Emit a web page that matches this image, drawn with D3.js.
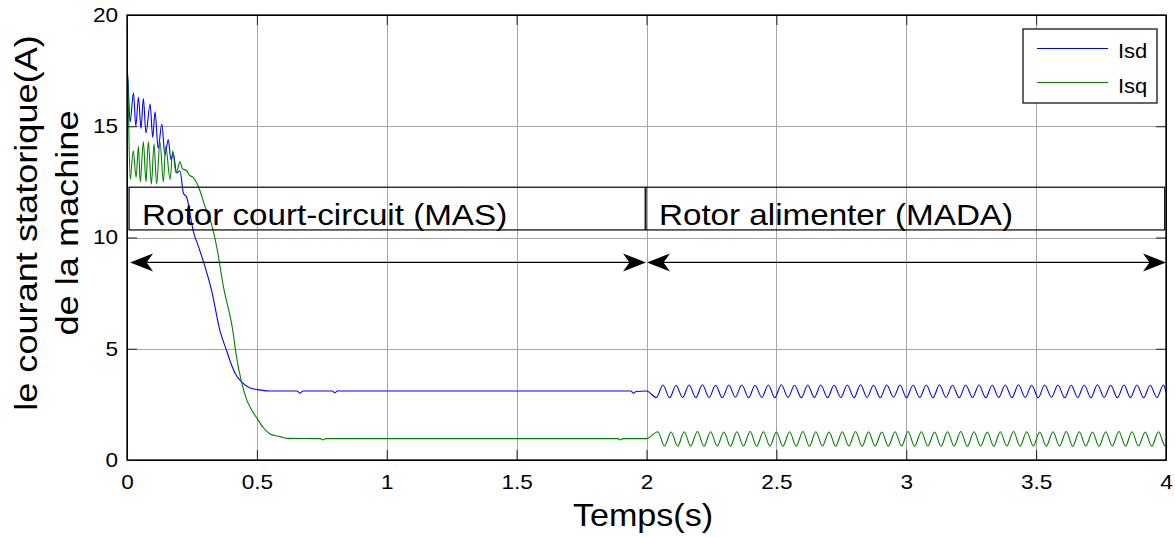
<!DOCTYPE html>
<html>
<head>
<meta charset="utf-8">
<script src="https://cdn.jsdelivr.net/npm/d3@7"></script>
<style>
  body { margin: 0; background: #fff; }
  svg { display: block; font-family: Arial, "Liberation Sans", sans-serif; }
</style>
</head>
<body>
<svg id="chart" width="1175" height="537"></svg>
<script>
// tick labels
var xTicks = [0, 0.5, 1, 1.5, 2, 2.5, 3, 3.5, 4]
var yTicks = [0, 5, 10, 15, 20]

// Isd : start-up + plateau (rotor short-circuited)
var isdStart = [[0,0],[0.001,17.5],[0.012,15.2],[0.025,16.5],[0.034,15.0],[0.044,16.3],[0.054,14.9],[0.063,16.25],
  [0.073,14.7],[0.089,16.0],[0.099,14.5],[0.108,15.65],[0.12,14.0],[0.134,15.1],[0.146,13.7],[0.159,14.4],
  [0.169,13.5],[0.178,13.8],[0.191,12.9],[0.204,13.0],[0.217,12.0],[0.23,11.8],[0.238,11.4],[0.245,10.9],
  [0.255,10.3],[0.275,9.6],[0.3,8.7],[0.326,7.6],[0.358,5.8],[0.384,4.9],[0.4,4.35],[0.416,3.9],[0.442,3.5],
  [0.474,3.24],[0.512,3.15],[0.55,3.1],[0.655,3.1],[0.666,3.0],[0.677,3.1],[0.79,3.1],[0.8,3.02],[0.81,3.1],
  [1.94,3.1],[1.95,3.0],[1.96,3.08],[2.0,3.1]]

// Isd : oscillation once the rotor is fed (MADA)
var isdFed = [[2.038,2.81],[2.063,3.37],[2.089,2.80],[2.114,3.36],[2.139,2.81],[2.164,3.37],[2.190,2.80],[2.215,3.38],
  [2.241,2.81],[2.266,3.36],[2.292,2.80],[2.317,3.37],[2.342,2.82],[2.367,3.37],[2.393,2.80],[2.418,3.36],
  [2.444,2.81],[2.469,3.37],[2.494,2.80],[2.519,3.38],[2.545,2.81],[2.570,3.36],[2.596,2.80],[2.621,3.37],
  [2.646,2.81],[2.671,3.37],[2.697,2.80],[2.722,3.36],[2.748,2.81],[2.773,3.37],[2.799,2.80],[2.824,3.38],
  [2.849,2.81],[2.874,3.36],[2.900,2.80],[2.925,3.37],[2.951,2.82],[2.976,3.37],[3.001,2.80],[3.026,3.36],
  [3.052,2.81],[3.077,3.37],[3.103,2.80],[3.128,3.38],[3.153,2.81],[3.178,3.36],[3.204,2.80],[3.229,3.37],
  [3.255,2.81],[3.280,3.37],[3.306,2.80],[3.331,3.36],[3.356,2.81],[3.381,3.37],[3.407,2.80],[3.432,3.38],
  [3.458,2.81],[3.483,3.36],[3.508,2.80],[3.533,3.37],[3.559,2.82],[3.584,3.37],[3.610,2.80],[3.635,3.36],
  [3.660,2.81],[3.685,3.37],[3.711,2.80],[3.736,3.38],[3.762,2.81],[3.787,3.36],[3.813,2.80],[3.838,3.37],
  [3.863,2.81],[3.888,3.37],[3.914,2.80],[3.939,3.36],[3.965,2.81],[3.990,3.37],[4.0,3.05]]

// Isq : start-up + plateau
var isqStart = [[0,0],[0.001,17.75],[0.012,12.6],[0.024,13.9],[0.035,12.7],[0.044,14.1],[0.051,12.5],[0.063,14.3],
  [0.073,12.5],[0.082,14.3],[0.094,12.4],[0.104,14.2],[0.114,12.4],[0.127,14.3],[0.14,12.5],[0.149,14.1],
  [0.166,12.6],[0.176,13.9],[0.189,12.9],[0.204,13.4],[0.213,13.1],[0.23,13.0],[0.24,12.8],[0.255,12.7],
  [0.281,12.1],[0.3,11.4],[0.32,10.8],[0.345,9.6],[0.371,7.8],[0.407,5.84],[0.422,4.6],[0.442,3.45],[0.461,2.7],
  [0.48,2.25],[0.499,1.9],[0.525,1.45],[0.551,1.17],[0.589,1.05],[0.615,0.97],[0.745,0.96],[0.755,0.9],
  [0.765,0.96],[1.89,0.96],[1.9,0.9],[1.91,0.96],[2.0,0.96]]

// Isq : oscillation once the rotor is fed
var isqFed = [[2.044,1.27],[2.069,0.63],[2.095,1.26],[2.120,0.62],[2.145,1.27],[2.170,0.63],[2.196,1.28],[2.221,0.62],
  [2.247,1.27],[2.272,0.63],[2.298,1.26],[2.323,0.62],[2.348,1.27],[2.373,0.63],[2.399,1.28],[2.424,0.62],
  [2.450,1.27],[2.475,0.63],[2.500,1.26],[2.525,0.62],[2.551,1.27],[2.576,0.63],[2.602,1.28],[2.627,0.62],
  [2.652,1.27],[2.677,0.63],[2.703,1.26],[2.728,0.62],[2.754,1.27],[2.779,0.63],[2.805,1.28],[2.830,0.62],
  [2.855,1.27],[2.880,0.63],[2.906,1.26],[2.931,0.62],[2.957,1.27],[2.982,0.63],[3.007,1.28],[3.032,0.62],
  [3.058,1.27],[3.083,0.63],[3.109,1.26],[3.134,0.62],[3.159,1.27],[3.184,0.63],[3.210,1.28],[3.235,0.62],
  [3.261,1.27],[3.286,0.63],[3.312,1.26],[3.337,0.62],[3.362,1.27],[3.387,0.63],[3.413,1.28],[3.438,0.62],
  [3.464,1.27],[3.489,0.63],[3.514,1.26],[3.539,0.62],[3.565,1.27],[3.590,0.63],[3.616,1.28],[3.641,0.62],
  [3.666,1.27],[3.691,0.63],[3.717,1.26],[3.742,0.62],[3.768,1.27],[3.793,0.63],[3.819,1.28],[3.844,0.62],
  [3.869,1.27],[3.894,0.63],[3.920,1.26],[3.945,0.62],[3.971,1.27],[3.996,0.64],[4.0,0.66]]

var series = [
  {name: "Isd", color: "#0000ff", pts: isdStart.concat(isdFed)},
  {name: "Isq", color: "#008000", pts: isqStart.concat(isqFed)}
]

// annotation boxes / arrows, in data units
var boxes = [
  {label: "Rotor court-circuit (MAS)", t0: 0.008, t1: 1.995, arrow: [0.012, 1.998]},
  {label: "Rotor alimenter (MADA)", t0: 1.998, t1: 3.995, arrow: [2.002, 4.0]}
]
var boxTop = 12.26, boxBottom = 10.34, arrowY = 8.88

var svg = d3.select("#chart")
// note: "top" is taken by window.top, so plot edges get their own names
var pL = 127, pR = 1166, pT = 15, pB = 460
var stretch = 1.13 // the source figure's text is a bit wider than Arial

var x = d3.scaleLinear().domain([0, 4]).range([pL, pR])
var y = d3.scaleLinear().domain([0, 20]).range([pB, pT])

svg.append("rect").attr("width", 1175).attr("height", 537).attr("fill", "#fff")

// grid
var grid = svg.append("g").attr("stroke", "#a6a6a6").attr("stroke-width", 1)
grid.selectAll(".gx").data(xTicks.slice(1, -1)).enter().append("line")
  .attr("x1", d => Math.round(x(d)) + 0.5).attr("x2", d => Math.round(x(d)) + 0.5)
  .attr("y1", pT).attr("y2", pB)
grid.selectAll(".gy").data(yTicks.slice(1, -1)).enter().append("line")
  .attr("y1", d => Math.round(y(d)) + 0.5).attr("y2", d => Math.round(y(d)) + 0.5)
  .attr("x1", pL).attr("x2", pR)

// curves
svg.append("clipPath").attr("id", "clip").append("rect")
  .attr("x", pL).attr("y", pT).attr("width", pR - pL).attr("height", pB - pT)
var line = d3.line().x(d => x(d[0])).y(d => y(d[1])).curve(d3.curveMonotoneX)
svg.append("g").attr("clip-path", "url(#clip)")
  .selectAll("path").data(series).enter().append("path")
  .attr("d", d => line(d.pts))
  .attr("fill", "none")
  .attr("stroke", d => d.color)
  .attr("stroke-width", 1.1)

// text boxes
var ann = svg.append("g")
ann.selectAll("rect").data(boxes).enter().append("rect")
  .attr("x", d => x(d.t0)).attr("y", y(boxTop))
  .attr("width", d => x(d.t1) - x(d.t0)).attr("height", y(boxBottom) - y(boxTop))
  .attr("fill", "none").attr("stroke", "#000").attr("stroke-width", 1.2)
ann.selectAll("text").data(boxes).enter().append("text")
  .attr("transform", d => "translate(" + (x(d.t0) + 13) + "," + (y(boxBottom) - 5) + ") scale(1.145,1)")
  .attr("font-size", "29px").attr("fill", "#000")
  .text(d => d.label)

// double arrows
var head = function(tip, dir) {
  var yy = y(arrowY)
  return "M" + tip + "," + yy +
    "L" + (tip + dir * 23) + "," + (yy - 9) +
    "L" + (tip + dir * 16.5) + "," + yy +
    "L" + (tip + dir * 23) + "," + (yy + 9) + "Z"
}
boxes.forEach(function(b) {
  var a = x(b.arrow[0]), c = x(b.arrow[1])
  ann.append("line").attr("x1", a + 10).attr("x2", c - 10)
    .attr("y1", y(arrowY)).attr("y2", y(arrowY))
    .attr("stroke", "#000").attr("stroke-width", 1.1)
  ann.append("path").attr("d", head(a, 1)).attr("fill", "#000")
  ann.append("path").attr("d", head(c, -1)).attr("fill", "#000")
})

// axes, ticks inward on all four sides
var fmt = d => String(d)
var gx = svg.append("g").attr("transform", "translate(0," + pB + ")")
  .call(d3.axisBottom(x).tickValues(xTicks).tickFormat(fmt).tickSizeInner(-10).tickSizeOuter(0).tickPadding(15))
var gy = svg.append("g").attr("transform", "translate(" + pL + ",0)")
  .call(d3.axisLeft(y).tickValues(yTicks).tickFormat(fmt).tickSizeInner(-10).tickSizeOuter(0).tickPadding(8))
svg.append("g").attr("transform", "translate(0," + pT + ")")
  .call(d3.axisTop(x).tickValues(xTicks).tickFormat("").tickSizeInner(-10).tickSizeOuter(0))
svg.append("g").attr("transform", "translate(" + pR + ",0)")
  .call(d3.axisRight(y).tickValues(yTicks).tickFormat("").tickSizeInner(-10).tickSizeOuter(0))
svg.selectAll(".tick text").attr("font-size", "20px").attr("fill", "#000")
  .attr("font-family", "Arial, 'Liberation Sans', sans-serif")
  .attr("transform", "scale(" + stretch + ",1)")
gy.selectAll(".tick text").attr("x", -9 / stretch)
svg.selectAll(".tick line").attr("stroke", "#222")
svg.selectAll(".domain").attr("stroke", "#000")

svg.append("rect").attr("x", pL).attr("y", pT)
  .attr("width", pR - pL).attr("height", pB - pT)
  .attr("fill", "none").attr("stroke", "#000").attr("stroke-width", 1.3)

// axis labels
svg.append("text").attr("transform", "translate(643,526) scale(1.1,1)")
  .attr("text-anchor", "middle").attr("font-size", "31px").text("Temps(s)")
var yl = svg.append("text").attr("transform", "translate(37,223) rotate(-90) scale(" + stretch + ",1)")
  .attr("text-anchor", "middle").attr("font-size", "32px")
yl.append("tspan").attr("x", 0).attr("y", 0).text("le courant statorique(A)")
yl.append("tspan").attr("x", 0).attr("y", 41.5).text("de la machine")

// legend
var lg = svg.append("g")
lg.append("rect").attr("x", 1023).attr("y", 29).attr("width", 134).attr("height", 74)
  .attr("fill", "#fff").attr("stroke", "#000").attr("stroke-width", 1.2)
lg.selectAll("line").data(series).enter().append("line")
  .attr("x1", 1037).attr("x2", 1108)
  .attr("y1", (d, i) => 48.5 + i * 34).attr("y2", (d, i) => 48.5 + i * 34)
  .attr("stroke", d => d.color).attr("stroke-width", 1.1)
lg.selectAll("text").data(series).enter().append("text")
  .attr("transform", (d, i) => "translate(1118," + (57.5 + i * 35) + ") scale(1.1,1)")
  .attr("font-size", "20px").text(d => d.name)
</script>
</body>
</html>
